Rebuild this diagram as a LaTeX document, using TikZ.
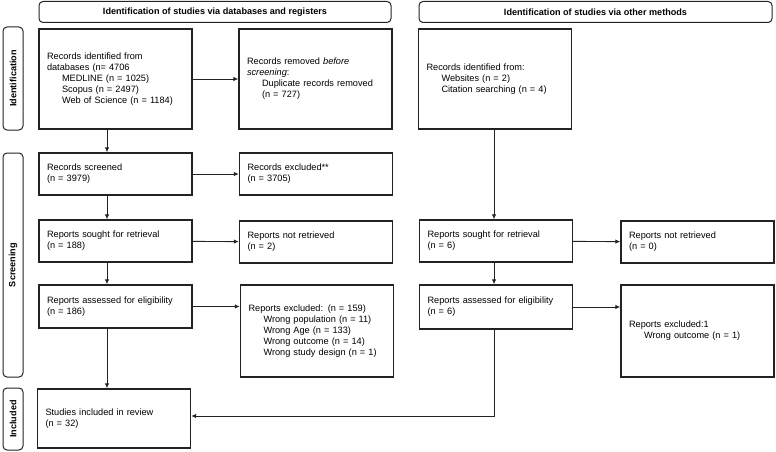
\documentclass[tikz,border=0pt]{standalone}
\usepackage{fontspec}
\setmainfont{Liberation Sans}
\usetikzlibrary{positioning, arrows.meta, calc}
\definecolor{LineGray}{RGB}{35,35,35}
\newcommand{\ind}{\hspace*{15pt}}

\begin{document}
\begin{tikzpicture}[x=1pt, y=-1pt,
    box/.style={draw=LineGray, line width=1.4pt, inner xsep=8pt, inner ysep=2pt,
      text width=137pt, align=left, font=\fontsize{9.2}{11}\selectfont},
    hdr/.style={draw=LineGray, line width=1pt, rounded corners=4pt, minimum width=#1,
      minimum height=21pt, font=\bfseries\fontsize{9.1}{10}\selectfont},
    side/.style={draw=LineGray, line width=1pt, rounded corners=4pt, rotate=90, minimum width=#1,
      minimum height=20pt, font=\bfseries\fontsize{9.1}{10}\selectfont},
    arr/.style={-{Latex[length=5pt,width=4.5pt]}, line width=0.9pt, LineGray}]
  \useasboundingbox (0,0) rectangle (776,452);
  % headers and phase labels
  \node[hdr=352pt] (hdrDb) at (215,12) {Identification of studies via databases and registers};
  \node[hdr=353pt] (hdrOther) at (595.5,12) {Identification of studies via other methods};
  \node[side=103pt] (phaseId) at (13,78.5) {Identification};
  \node[side=224pt] (phaseScr) at (13,265) {Screening};
  \node[side=62pt] (phaseInc) at (13,419) {Included};
  % databases and registers
  \node[box, minimum height=100pt] (recDb) at (115.5,79) {Records identified from\\ databases (n= 4706\\ \ind MEDLINE (n = 1025)\\ \ind Scopus (n = 2497)\\ \ind Web of Science (n = 1184)};
  \node[box, minimum height=100pt] (recRemoved) at (315.5,79) {Records removed \textit{before}\\ \textit{screening}:\\ \ind Duplicate records removed\\ \ind (n = 727)};
  \node[box, minimum height=42pt] (recScreened) at (115.5,174) {Records screened\\ (n = 3979)};
  \node[box, minimum height=42pt] (recExcluded) at (316,174) {Records excluded**\\ (n = 3705)};
  \node[box, minimum height=42pt] (repSought) at (115.5,241) {Reports sought for retrieval\\ (n = 188)};
  \node[box, minimum height=42pt] (repNotRet) at (316,242) {Reports not retrieved\\ (n = 2)};
  \node[box, minimum height=43pt] (repAssessed) at (115.5,306.5) {Reports assessed for eligibility\\ (n = 186)};
  \node[box, minimum height=92pt] (repExcluded) at (317,331) {Reports excluded: (n = 159)\\ \ind Wrong population (n = 11)\\ \ind Wrong Age (n = 133)\\ \ind Wrong outcome (n = 14)\\ \ind Wrong study design (n = 1)};
  \node[box, minimum height=59pt] (included) at (114,418.5) {Studies included in review\\ (n = 32)};
  % other methods
  \node[box, minimum height=100pt] (recOther) at (495,79) {Records identified from:\\ \ind Websites (n = 2)\\ \ind Citation searching (n = 4)};
  \node[box, minimum height=42pt] (repSoughtO) at (496,241) {Reports sought for retrieval\\ (n = 6)};
  \node[box, minimum height=42pt] (repNotRetO) at (697.5,242) {Reports not retrieved\\ (n = 0)};
  \node[box, minimum height=44pt] (repAssessedO) at (496,307) {Reports assessed for eligibility\\ (n = 6)};
  \node[box, minimum height=92pt] (repExcludedO) at (697.5,331) {Reports excluded:1\\ \ind Wrong outcome (n = 1)};
  % connectors
  \draw[arr] (recDb) -- (recRemoved);
  \draw[arr] ([xshift=-8.5pt]recDb.south) -- ([xshift=-8.5pt]recScreened.north);
  \draw[arr] (recScreened) -- (recExcluded);
  \draw[arr] ([xshift=-8.5pt]recScreened.south) -- ([xshift=-8.5pt]repSought.north);
  \draw[arr] (repSought) -- (repNotRet);
  \draw[arr] ([xshift=-8.5pt]repSought.south) -- ([xshift=-8.5pt]repAssessed.north);
  \draw[arr] (repAssessed.east) -- (repAssessed.east -| repExcluded.west);
  \draw[arr] ([xshift=-8.5pt]repAssessed.south) -- ([xshift=-7pt]included.north);
  \draw[arr] ([xshift=-1pt]recOther.south) -- ([xshift=-2pt]repSoughtO.north);
  \draw[arr] (repSoughtO) -- (repNotRetO);
  \draw[arr] ([xshift=-2pt]repSoughtO.south) -- ([xshift=-2pt]repAssessedO.north);
  \draw[arr] (repAssessedO.east) -- (repAssessedO.east -| repExcludedO.west);
  \draw[arr] ([xshift=-2pt]repAssessedO.south) |- ([yshift=2.5pt]included.east);
\end{tikzpicture}
\end{document}
